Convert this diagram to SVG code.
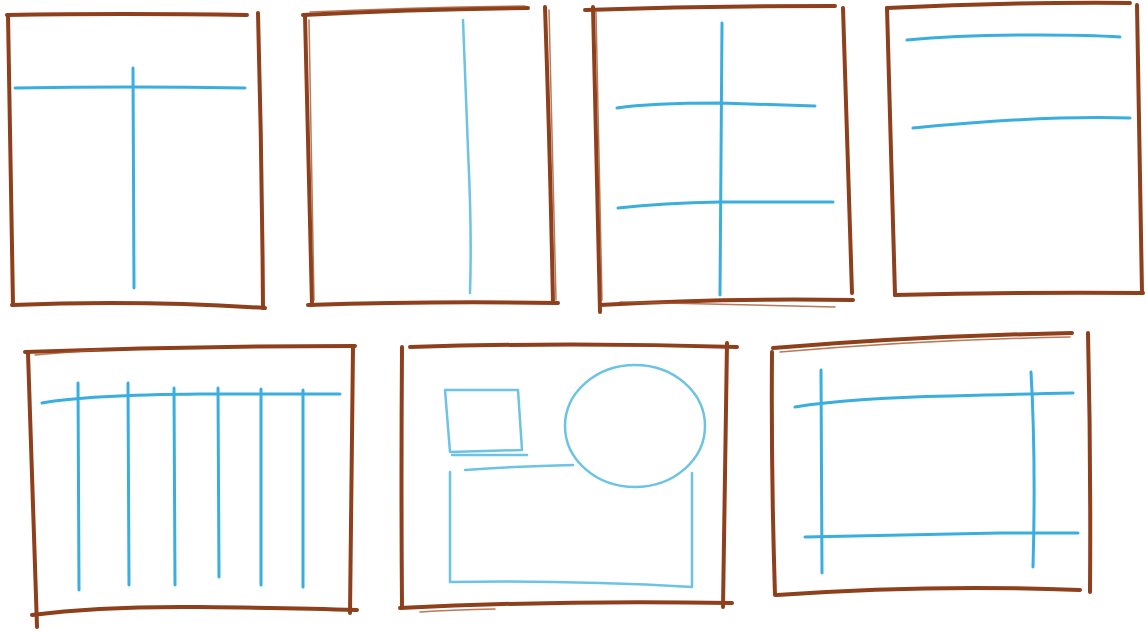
<svg xmlns="http://www.w3.org/2000/svg" width="1147" height="632" viewBox="0 0 1147 632">
<style>
.f{fill:none;stroke:#8e3f1c;stroke-width:4;stroke-linecap:round;stroke-linejoin:round}
.f2{fill:none;stroke:#a8562e;stroke-width:1.5;stroke-linecap:round;opacity:.8}
.b{fill:none;stroke:#3aaede;stroke-width:3;stroke-linecap:round;stroke-linejoin:round}
.bl{fill:none;stroke:#6cc3e4;stroke-width:2.5;stroke-linecap:round;stroke-linejoin:round}
</style>
<rect width="1147" height="632" fill="#ffffff"/>
<g id="frame1">
<path class="f" d="M7 15 Q120 13 247 15"/>
<path class="f" d="M258 13 Q262 160 263 308"/>
<path class="f" d="M12 305 Q140 300 265 308"/>
<path class="f" d="M8 15 Q10 160 13 305"/>
<path class="b" d="M15 88 Q130 86 245 88"/>
<path class="b" d="M133 68 L134 288"/>
</g>
<g id="frame2">
<path class="f" d="M303 15 Q420 9 528 8"/>
<path class="f2" d="M310 12 Q420 7 525 6"/>
<path class="f" d="M545 7 Q550 150 553 303"/>
<path class="f2" d="M549 10 Q553 150 556 300"/>
<path class="f" d="M308 305 Q430 301 558 303"/>
<path class="f" d="M305 15 Q309 160 312 305"/>
<path class="f2" d="M309 20 Q312 160 314 300"/>
<path class="bl" d="M463 20 Q466 100 468 150 Q472 230 470 293"/>
</g>
<g id="frame3">
<path class="f" d="M585 10 Q710 6 835 6"/>
<path class="f" d="M843 8 Q848 150 852 293"/>
<path class="f" d="M600 305 Q720 298 853 300"/>
<path class="f2" d="M620 302 Q720 304 835 307"/>
<path class="f" d="M593 7 Q596 160 600 312"/>
<path class="f2" d="M596 12 Q599 160 602 300"/>
<path class="b" d="M722 23 L720 295"/>
<path class="b" d="M617 108 Q650 103 720 103 Q780 105 815 106"/>
<path class="b" d="M618 208 Q663 203 720 202 Q790 202 833 202"/>
</g>
<g id="frame4">
<path class="f" d="M887 8 Q1010 2 1130 3"/>
<path class="f" d="M1137 5 Q1140 150 1142 293"/>
<path class="f" d="M895 295 Q1020 292 1143 293"/>
<path class="f" d="M887 8 Q891 150 895 295"/>
<path class="b" d="M907 40 Q960 35 1040 35 Q1090 35 1120 37"/>
<path class="b" d="M913 128 Q993 120 1060 118 Q1100 117 1130 118"/>
</g>
<g id="frame5">
<path class="f" d="M25 352 Q190 346 355 346"/>
<path class="f2" d="M35 355 Q80 351 100 350"/>
<path class="f" d="M353 347 Q352 480 350 613"/>
<path class="f" d="M32 615 Q100 606 200 607 Q300 608 357 610"/>
<path class="f" d="M28 353 Q32 490 37 627"/>
<path class="b" d="M42 403 Q87 395 200 394 Q300 394 340 394"/>
<path class="b" d="M78 383 L79 590"/>
<path class="b" d="M128 383 L129 585"/>
<path class="b" d="M174 388 L175 585"/>
<path class="b" d="M218 388 L219 577"/>
<path class="b" d="M261 389 L261 585"/>
<path class="b" d="M303 390 L303 587"/>
</g>
<g id="frame6">
<path class="f" d="M410 347 Q570 342 737 347"/>
<path class="f" d="M727 343 Q725 480 723 607"/>
<path class="f" d="M400 608 Q560 600 732 603"/>
<path class="f2" d="M420 612 Q450 610 495 609"/>
<path class="f" d="M402 347 Q401 480 402 607"/>
<path class="bl" d="M445 390 L518 390 L522 450 L450 452 Z"/>
<path class="bl" d="M452 455 L527 455"/>
<ellipse class="bl" cx="635" cy="426" rx="70" ry="61"/>
<path class="bl" d="M465 470 Q520 466 573 465"/>
<path class="bl" d="M450 472 L450 582 Q570 580 692 587 L692 473"/>
</g>
<g id="frame7">
<path class="f" d="M773 348 Q920 336 1072 333"/>
<path class="f2" d="M780 352 Q920 340 1070 337"/>
<path class="f" d="M1088 333 Q1091 460 1090 592"/>
<path class="f" d="M777 595 Q930 584 1080 590"/>
<path class="f" d="M772 352 Q771 470 775 595"/>
<path class="b" d="M821 370 L822 573"/>
<path class="b" d="M1031 372 Q1036 460 1033 567"/>
<path class="b" d="M795 407 Q850 398 950 396 Q1020 394 1073 393"/>
<path class="b" d="M805 537 Q900 535 1000 533 Q1050 533 1078 533"/>
</g>
</svg>
